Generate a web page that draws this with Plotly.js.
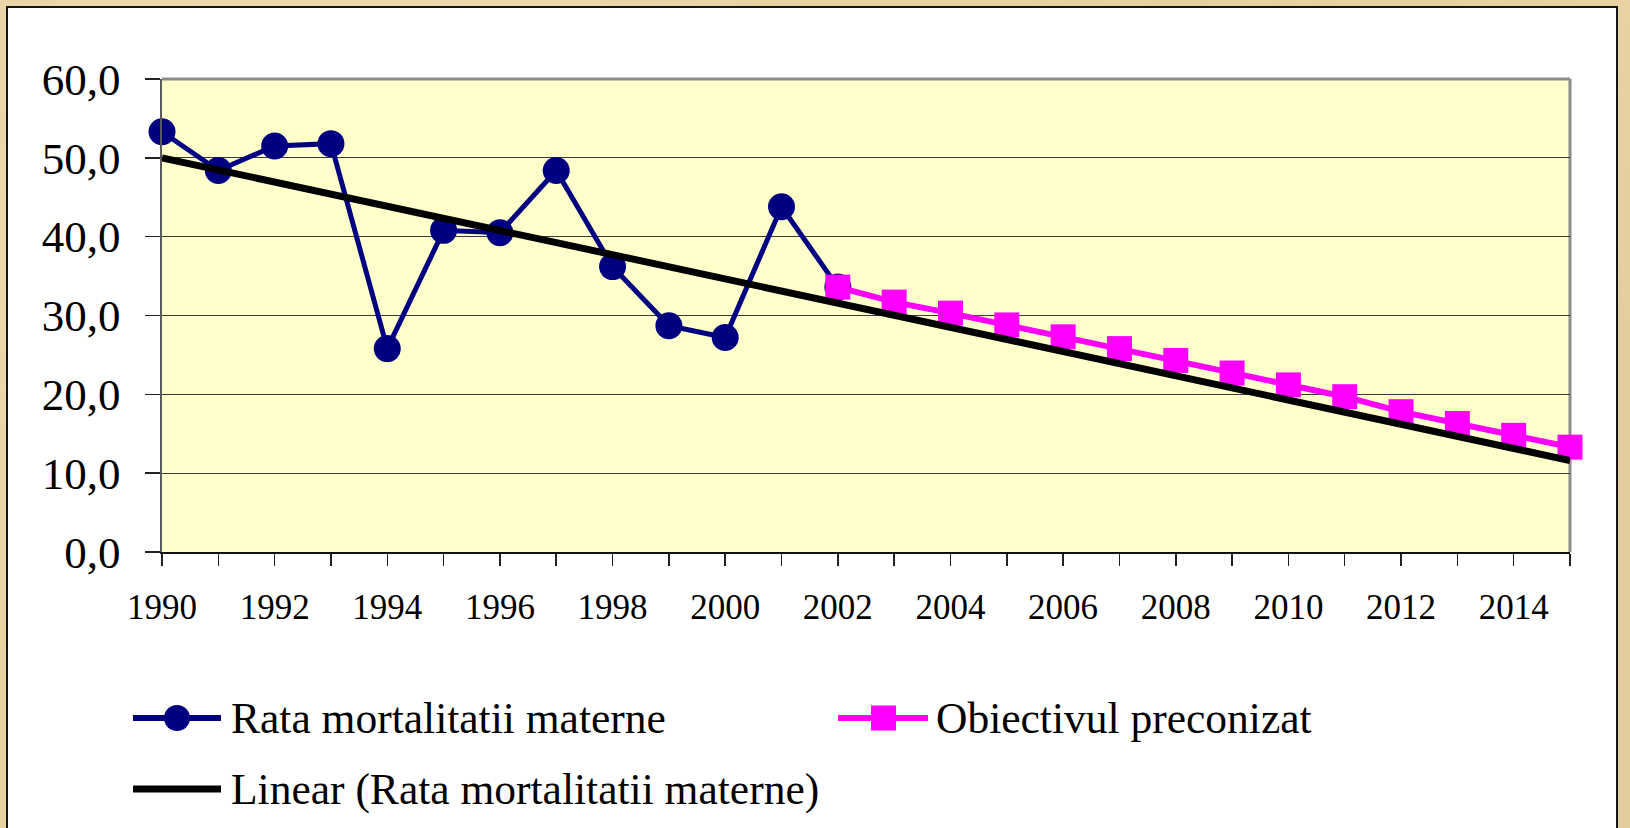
<!DOCTYPE html>
<html>
<head>
<meta charset="utf-8">
<script src="https://cdn.plot.ly/plotly-3.0.1.min.js"></script>
<style>
  html, body { margin: 0; padding: 0; width: 1630px; height: 828px; overflow: hidden; }
  body {
    background-color: #e8d2a3;
    background-image:
      radial-gradient(circle at 20% 30%, rgba(255,245,220,0.35) 0, rgba(255,245,220,0) 40%),
      radial-gradient(circle at 80% 70%, rgba(190,160,110,0.25) 0, rgba(190,160,110,0) 45%);
  }
  #panel {
    position: absolute; left: 6px; top: 6px; width: 1612px; height: 860px;
    box-sizing: border-box; border: 2px solid #151515; background: #ffffff;
  }
  #chart { position: absolute; left: 0; top: 0; width: 1630px; height: 828px; }
</style>
</head>
<body>
<div id="panel"></div>
<div id="chart"></div>
<script>
// ---- data ----
const rataYears = [1990, 1991, 1992, 1993, 1994, 1995, 1996, 1997, 1998, 1999, 2000, 2001, 2002];
const rataValues = [53.3, 48.4, 51.5, 51.8, 25.8, 40.8, 40.5, 48.4, 36.2, 28.7, 27.2, 43.8, 33.6];

const obiectivYears = [2002, 2003, 2004, 2005, 2006, 2007, 2008, 2009, 2010, 2011, 2012, 2013, 2014, 2015];
const obiectivValues = [33.6, 31.7, 30.3, 28.8, 27.3, 25.8, 24.3, 22.7, 21.2, 19.7, 17.8, 16.3, 14.8, 13.3];

const trendYears = [1990, 2015];
const trendValues = [50.0, 11.6];

const seriesNames = ["Rata mortalitatii materne", "Obiectivul preconizat", "Linear (Rata mortalitatii materne)"];

// ---- layout geometry (pixels) ----
const W = 1630, H = 828;
const M = { l: 162, r: 60, t: 79, b: 276 };
const PW = W - M.l - M.r, PH = H - M.t - M.b;
const fx = px => (px - M.l) / PW;
const fy = py => (H - M.b - py) / PH;

const NAVY = "#000080", MAG = "#FF00FF";
const FONT = "Liberation Serif, Times New Roman, serif";

const traces = [
  {
    x: rataYears, y: rataValues, name: seriesNames[0], type: "scatter", mode: "lines+markers",
    line: { color: NAVY, width: 5 },
    marker: { color: NAVY, size: 27, symbol: "circle" },
    cliponaxis: false, showlegend: false
  },
  {
    x: obiectivYears, y: obiectivValues, name: seriesNames[1], type: "scatter", mode: "lines+markers",
    line: { color: MAG, width: 6 },
    marker: { color: MAG, size: 25, symbol: "square" },
    cliponaxis: false, showlegend: false
  },
  {
    x: trendYears, y: trendValues, name: seriesNames[2], type: "scatter", mode: "lines",
    line: { color: "#000000", width: 7 },
    cliponaxis: false, showlegend: false
  }
];

// custom legend (shapes + text) placed like the original
const row1 = 718, row2 = 789;
const shapes = [
  // top & right plot frame in grey
  { type: "line", xref: "paper", yref: "paper", x0: 0, x1: 1, y0: 1, y1: 1, line: { color: "#8c8c8c", width: 3 }, layer: "above" },
  { type: "line", xref: "paper", yref: "paper", x0: 1, x1: 1, y0: 0, y1: 1, line: { color: "#8c8c8c", width: 3 }, layer: "below" },
  // legend symbols
  { type: "line", xref: "paper", yref: "paper", x0: fx(133), x1: fx(221), y0: fy(row1), y1: fy(row1), line: { color: NAVY, width: 6 } },
  { type: "circle", xref: "paper", yref: "paper", x0: fx(164), x1: fx(190), y0: fy(row1 + 13), y1: fy(row1 - 13), fillcolor: NAVY, line: { width: 0 } },
  { type: "line", xref: "paper", yref: "paper", x0: fx(838), x1: fx(928), y0: fy(row1), y1: fy(row1), line: { color: MAG, width: 6 } },
  { type: "rect", xref: "paper", yref: "paper", x0: fx(871), x1: fx(896), y0: fy(row1 + 12.5), y1: fy(row1 - 12.5), fillcolor: MAG, line: { width: 0 } },
  { type: "line", xref: "paper", yref: "paper", x0: fx(133), x1: fx(221), y0: fy(row2), y1: fy(row2), line: { color: "#000000", width: 7 } }
];

const legFont = { family: FONT, size: 43.5, color: "#000000" };
const annotations = [
  { xref: "paper", yref: "paper", x: fx(229), y: fy(row1), xanchor: "left", yanchor: "middle", text: seriesNames[0], showarrow: false, font: legFont },
  { xref: "paper", yref: "paper", x: fx(934), y: fy(row1), xanchor: "left", yanchor: "middle", text: seriesNames[1], showarrow: false, font: legFont },
  { xref: "paper", yref: "paper", x: fx(229), y: fy(row2), xanchor: "left", yanchor: "middle", text: seriesNames[2], showarrow: false, font: legFont }
];

const layout = {
  width: W, height: H,
  margin: M,
  paper_bgcolor: "rgba(0,0,0,0)",
  plot_bgcolor: "#FFFFCC",
  separators: ",.",
  showlegend: false,
  font: { family: FONT, color: "#000000" },
  xaxis: {
    range: [1990, 2015], dtick: 2, tick0: 1990, tickformat: "d",
    ticks: "outside", ticklen: 12, tickwidth: 1.5, tickcolor: "#222",
    minor: { dtick: 1, ticks: "outside", ticklen: 12, tickwidth: 1.5, tickcolor: "#222" },
    showgrid: false, zeroline: false,
    showline: true, linecolor: "#111", linewidth: 2,
    tickfont: { family: FONT, size: 35, color: "#000" },
    ticklabelstandoff: 11,
    fixedrange: true
  },
  yaxis: {
    range: [0, 60], dtick: 10, tick0: 0, tickformat: ".1f",
    ticks: "outside", ticklen: 15, tickwidth: 1.5, tickcolor: "#222",
    showgrid: true, gridcolor: "#3a3a3a", gridwidth: 1.3,
    zeroline: false,
    showline: true, linecolor: "#5a5a5a", linewidth: 2.5,
    tickfont: { family: FONT, size: 45, color: "#000" },
    ticklabelstandoff: 15,
    fixedrange: true
  },
  shapes: shapes,
  annotations: annotations
};

Plotly.newPlot("chart", traces, layout, { displayModeBar: false, staticPlot: true });
</script>
</body>
</html>
